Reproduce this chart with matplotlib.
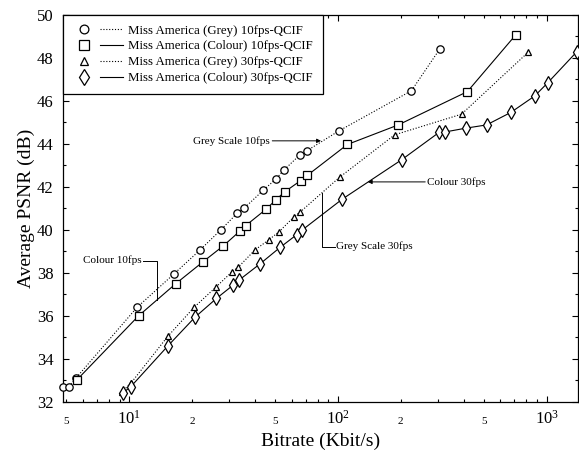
import matplotlib.pyplot as plt
import numpy as np
from matplotlib.lines import Line2D
from matplotlib.legend_handler import HandlerTuple
from matplotlib.ticker import LogLocator, FuncFormatter, MultipleLocator

plt.rcParams['font.family'] = ['Liberation Serif', 'DejaVu Serif']
plt.rcParams['mathtext.fontset'] = 'custom'
plt.rcParams['mathtext.rm'] = 'Liberation Serif'
plt.rcParams['mathtext.it'] = 'Liberation Serif:italic'

# Miss America (Grey) 10fps-QCIF
grey10_rate = [4.85, 5.13, 5.56, 10.9, 16.4, 21.9, 27.5, 33.0, 35.5, 44.0, 50.4, 55.4, 65.8, 71.3, 101, 225, 308]
grey10_psnr = [32.71, 32.70, 33.10, 36.39, 37.95, 39.07, 40.00, 40.78, 41.00, 41.85, 42.36, 42.80, 43.49, 43.69, 44.60, 46.47, 48.42]

# Miss America (Colour) 10fps-QCIF
col10_rate = [5.62, 11.1, 16.7, 22.5, 28.3, 34.0, 36.1, 45.3, 50.5, 55.5, 66.3, 71.3, 111, 194.5, 417, 711]
col10_psnr = [33.02, 36.00, 37.49, 38.50, 39.26, 39.95, 40.19, 40.96, 41.40, 41.76, 42.29, 42.53, 43.97, 44.88, 46.43, 49.07]

# Miss America (Grey) 30fps-QCIF
grey30_rate = [9.2, 10.2, 15.3, 20.5, 26.0, 31.2, 33.3, 40.1, 46.6, 52.4, 61.8, 65.8, 102, 187, 391, 815]
grey30_psnr = [32.45, 32.87, 35.04, 36.40, 37.33, 38.06, 38.26, 39.07, 39.53, 39.92, 40.62, 40.82, 42.45, 44.42, 45.38, 48.26]

# Miss America (Colour) 30fps-QCIF
col30_rate = [9.3, 10.2, 15.4, 20.7, 26.2, 31.6, 33.7, 42.4, 52.8, 63.4, 67.0, 105, 202, 305, 325, 410, 515, 673, 877, 1014, 1390]
col30_psnr = [32.40, 32.71, 34.62, 35.94, 36.81, 37.44, 37.67, 38.42, 39.18, 39.77, 39.97, 41.43, 43.26, 44.53, 44.55, 44.73, 44.88, 45.46, 46.23, 46.85, 48.27]

labels = ['Miss America (Grey) 10fps-QCIF', 'Miss America (Colour) 10fps-QCIF',
          'Miss America (Grey) 30fps-QCIF', 'Miss America (Colour) 30fps-QCIF']

fig = plt.figure(figsize=(5.79, 4.5), dpi=100)
ax = fig.add_axes([0.109, 0.107, 0.889, 0.86])

dotted = (0, (1, 1.6))
series = [
    (grey10_rate, grey10_psnr, 'o', dotted, 5.3),
    (col10_rate, col10_psnr, 's', '-', 6.3),
    (grey30_rate, grey30_psnr, '^', dotted, 4.8),
    (col30_rate, col30_psnr, 'd', '-', 7),
]
handles = []
for x, y, m, ls, ms in series:
    ax.plot(x, y, color='black', linestyle=ls, linewidth=0.8, marker=m, markersize=ms,
            markerfacecolor='white', markeredgecolor='black', markeredgewidth=0.9, clip_on=False, zorder=3)
    mk = Line2D([], [], linestyle='none', marker=m, markersize=ms + 1, markerfacecolor='white',
                markeredgecolor='black', markeredgewidth=0.9)
    ln = Line2D([], [], color='black', linestyle=ls, linewidth=0.8)
    handles.append((mk, ln))

ax.set_xscale('log')
ax.set_xlim(4.83, 1410)
ax.set_ylim(32, 50)

ax.yaxis.set_major_locator(MultipleLocator(2))
ax.yaxis.set_minor_locator(MultipleLocator(1))
ax.xaxis.set_minor_locator(LogLocator(base=10, subs=np.arange(2, 10)))


def minor_label(v, pos):
    m = v / 10 ** np.floor(np.log10(v) + 1e-9)
    m = int(round(m))
    return str(m) if m in (2, 5) else ''


ax.xaxis.set_minor_formatter(FuncFormatter(minor_label))
ax.tick_params(which='both', direction='in', top=True, right=True, width=0.8)
ax.tick_params(which='major', length=4)
ax.tick_params(which='minor', length=2.5)
ax.tick_params(axis='y', which='major', labelsize=12, pad=7)
ax.tick_params(axis='x', which='major', labelsize=12, pad=6)
ax.tick_params(axis='x', which='minor', labelsize=8, pad=11)

for s in ax.spines.values():
    s.set_linewidth(0.9)

ax.set_xlabel('Bitrate (Kbit/s)', fontsize=14, labelpad=3)
ax.set_ylabel('Average PSNR (dB)', fontsize=14, labelpad=1)

# callouts
lk = dict(color='black', linewidth=0.7)
ax.text(11.5, 38.57, 'Colour 10fps', fontsize=8, ha='right', va='center')
ax.plot([11.7, 13.57, 13.57], [38.57, 38.57, 36.75], **lk)

ax.text(47.3, 44.14, 'Grey Scale 10fps', fontsize=8, ha='right', va='center')
ax.annotate('', xy=(83, 44.14), xytext=(48.5, 44.14),
            arrowprops=dict(arrowstyle='-|>', color='black', lw=0.7, mutation_scale=6,
                            shrinkA=0, shrinkB=0))

ax.text(97.5, 39.22, 'Grey Scale 30fps', fontsize=8, ha='left', va='center')
ax.plot([83.6, 83.6, 96.7], [41.7, 39.22, 39.22], **lk)

ax.text(266.5, 42.23, 'Colour 30fps', fontsize=8, ha='left', va='center')
ax.annotate('', xy=(139, 42.23), xytext=(262, 42.23),
            arrowprops=dict(arrowstyle='-|>', color='black', lw=0.7, mutation_scale=6,
                            shrinkA=0, shrinkB=0))

leg = ax.legend(handles, labels, loc='upper left', bbox_to_anchor=(0, 1), borderaxespad=0,
                handler_map={tuple: HandlerTuple(ndivide=None, pad=0.3)},
                fontsize=9.3, handlelength=3.9, handletextpad=0.4, labelspacing=0.3,
                borderpad=0.75, fancybox=False, framealpha=1)
leg.get_frame().set_edgecolor('black')
leg.get_frame().set_linewidth(0.9)

fig.savefig('out.png', dpi=100)
